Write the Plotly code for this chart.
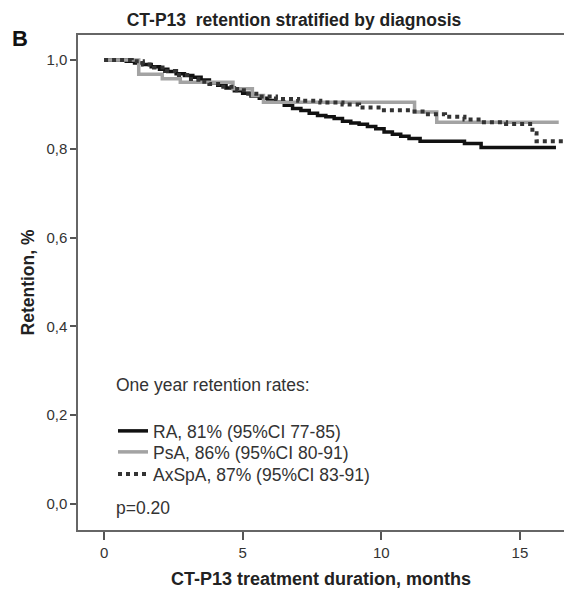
import plotly.graph_objects as go

# Kaplan-Meier step curves (months, retention proportion)
ra_t = [0, 0.8, 1.1, 1.4, 1.7, 2.0, 2.3, 2.6, 2.9, 3.2, 3.5, 3.8, 4.1, 4.4, 4.7, 5.0, 5.3, 5.6,
        5.9, 6.2, 6.5, 6.8, 7.1, 7.4, 7.7, 8.0, 8.3, 8.6, 8.9, 9.2, 9.5, 9.8, 10.1, 10.4, 10.7,
        11.0, 11.4, 13.0, 13.6, 16.3]
ra_s = [1.0, 0.997, 0.993, 0.99, 0.985, 0.979, 0.974, 0.969, 0.965, 0.961, 0.955, 0.949, 0.943,
        0.937, 0.931, 0.925, 0.919, 0.914, 0.909, 0.905, 0.898, 0.891, 0.886, 0.88, 0.875, 0.872,
        0.868, 0.862, 0.858, 0.855, 0.85, 0.845, 0.838, 0.833, 0.828, 0.823, 0.817, 0.812, 0.803,
        0.803]

psa_t = [0, 1.25, 2.1, 2.75, 4.65, 5.35, 5.75, 11.2, 12.0, 16.4]
psa_s = [1.0, 0.968, 0.958, 0.95, 0.935, 0.92, 0.905, 0.883, 0.86, 0.86]

axspa_t = [0, 1.0, 1.4, 1.8, 2.2, 2.6, 3.0, 3.4, 3.8, 4.3, 4.8, 5.2, 5.6, 6.2, 7.0, 7.8, 8.6,
           9.2, 10.0, 11.1, 11.6, 12.3, 13.0, 13.7, 14.5, 15.45, 15.6, 16.6]
axspa_s = [1.0, 0.997, 0.99, 0.983, 0.975, 0.966, 0.957, 0.951, 0.946, 0.94, 0.932, 0.924, 0.918,
           0.912, 0.908, 0.904, 0.9, 0.893, 0.887, 0.884, 0.878, 0.872, 0.866, 0.86, 0.856, 0.835,
           0.817, 0.817]

names = ["RA, 81% (95%CI 77-85)", "PsA, 86% (95%CI 80-91)", "AxSpA, 87% (95%CI 83-91)"]

y_ticks = [0.0, 0.2, 0.4, 0.6, 0.8, 1.0]
y_ticktext = ["0,0", "0,2", "0,4", "0,6", "0,8", "1,0"]
x_ticks = [0, 5, 10, 15]

FONT = "Liberation Sans, Arial, sans-serif"

fig = go.Figure()
fig.add_trace(go.Scatter(x=ra_t, y=ra_s, mode="lines", line_shape="hv", name=names[0],
                         legend="legend", line=dict(color="#111111", width=3.5)))
fig.add_trace(go.Scatter(x=psa_t, y=psa_s, mode="lines", line_shape="hv", name=names[1],
                         legend="legend2", line=dict(color="#a3a3a3", width=3.5)))
fig.add_trace(go.Scatter(x=axspa_t, y=axspa_s, mode="lines", line_shape="hv", name=names[2],
                         legend="legend3", line=dict(color="#333333", width=4, dash="4px,4px")))

def leg(ypix):
    return dict(x=(113 - 78) / 486, xanchor="left", y=(530 - ypix) / 495, yanchor="middle",
                bgcolor="rgba(0,0,0,0)", font=dict(size=17.5, color="#333333"),
                itemwidth=30, tracegroupgap=0)

fig.update_layout(
    width=564, height=589,
    margin=dict(l=78, r=0, t=35, b=59),
    paper_bgcolor="white", plot_bgcolor="white",
    font=dict(family=FONT, size=15, color="#333333"),
    title=dict(text="<b>CT-P13  retention stratified by diagnosis</b>",
               x=294 / 564, xanchor="center", y=1 - 20 / 589, yanchor="middle",
               font=dict(size=17.5, color="#222222")),
    showlegend=True,
    legend=leg(431), legend2=leg(452), legend3=leg(474),
    xaxis=dict(range=[-0.94, 16.59], tickvals=x_ticks, ticks="outside", ticklen=8,
               tickcolor="#555555", tickwidth=1.5, showgrid=False, zeroline=False,
               showline=True, linecolor="#666666", linewidth=1.5, mirror=True,
               tickfont=dict(size=15, color="#333333"),
               title=dict(text="<b>CT-P13 treatment duration, months</b>",
                          font=dict(size=18, color="#222222"), standoff=14)),
    yaxis=dict(range=[-0.0586, 1.0563], tickvals=y_ticks, ticktext=y_ticktext, ticks="outside",
               ticklen=6, tickcolor="#555555", tickwidth=1.5, showgrid=False, zeroline=False,
               showline=True, linecolor="#666666", linewidth=1.5,
               tickfont=dict(size=15, color="#333333"),
               title=dict(text="<b>Retention, %</b>", font=dict(size=17.5, color="#222222"),
                          standoff=7)),
)

fig.add_annotation(text="<b>B</b>", xref="paper", yref="paper", x=(10 - 78) / 486,
                   y=(530 - 38) / 495, xanchor="left", yanchor="middle", showarrow=False,
                   font=dict(size=22, color="#111111"))
fig.add_annotation(text="One year retention rates:", xref="paper", yref="paper",
                   x=(114 - 78) / 486, y=(530 - 385) / 495, xanchor="left", yanchor="middle",
                   showarrow=False, font=dict(size=17.5, color="#333333"))
fig.add_annotation(text="p=0.20", xref="paper", yref="paper",
                   x=(114 - 78) / 486, y=(530 - 508) / 495, xanchor="left", yanchor="middle",
                   showarrow=False, font=dict(size=17.5, color="#333333"))

fig.write_html("out.html")
